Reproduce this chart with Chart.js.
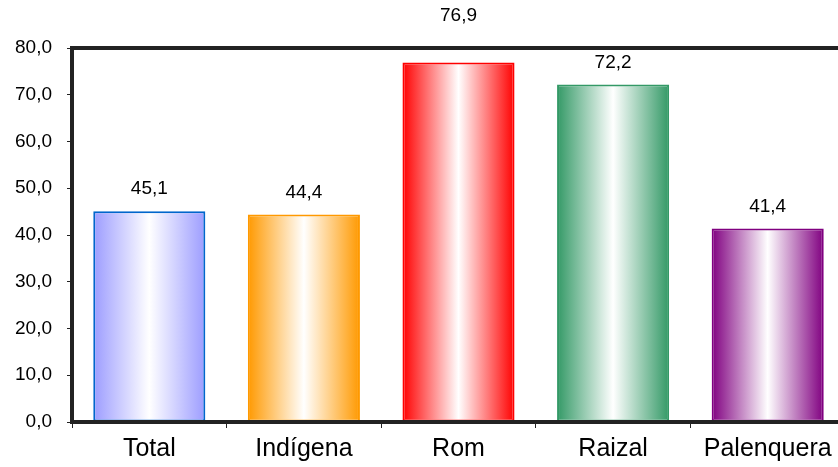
<!DOCTYPE html>
<html>
<head>
<meta charset="utf-8">
<script src="https://cdn.jsdelivr.net/npm/chart.js@4"></script>
<style>
  html, body { margin: 0; padding: 0; background: #fff; overflow: hidden; }
  #wrap { width: 852px; height: 467px; }
</style>
</head>
<body>
<div id="wrap"><canvas id="c" width="852" height="467"></canvas></div>
<script>
// datos del gráfico
const categorias = ['Total', 'Indígena', 'Rom', 'Raizal', 'Palenquera'];
const valores = [45.1, 44.4, 76.9, 72.2, 41.4];
const colores = ['#9c9cff', '#ff9900', '#ff0000', '#339966', '#800080'];
const bordes = ['#0066cc', '#ff9900', '#ff0000', '#339966', '#800080'];

const fuente = '"Liberation Sans", Arial, sans-serif';
const fmt = v => v.toFixed(1).replace('.', ',');

// degradado horizontal: color - blanco - color
function degradado(ctx) {
    const chart = ctx.chart;
    const x = chart.scales.x;
    if (!x || !chart.chartArea) return colores[ctx.dataIndex];
    const w = chart.chartArea.width / categorias.length * 0.725;
    const cx = x.getPixelForValue(ctx.dataIndex);
    const g = chart.ctx.createLinearGradient(cx - w / 2, 0, cx + w / 2, 0);
    const c = colores[ctx.dataIndex];
    g.addColorStop(0, c);
    g.addColorStop(0.5, '#ffffff');
    g.addColorStop(1, c);
    return g;
}

// marco del área de trazado
const marco = {
    id: 'marco',
    afterDatasetsDraw(chart) {
        const a = chart.chartArea, c = chart.ctx;
        c.save();
        c.strokeStyle = '#222';
        c.lineWidth = 4;
        c.strokeRect(a.left, a.top, a.right - a.left, a.bottom - a.top);
        c.restore();
    }
};

// etiquetas de valores sobre las barras
const etiquetas = {
    id: 'etiquetas',
    afterDraw(chart) {
        const c = chart.ctx, a = chart.chartArea;
        c.save();
        c.font = '19px ' + fuente;
        c.fillStyle = '#000';
        c.textAlign = 'center';
        c.textBaseline = 'middle';
        chart.getDatasetMeta(0).data.forEach((bar, i) => {
            let y = bar.y - 22;
            if (y - 10 < a.top + 4) y = a.top - 32;
            c.fillText(fmt(valores[i]), bar.x, y);
        });
        c.restore();
    }
};

new Chart(document.getElementById('c'), {
    type: 'bar',
    data: {
        labels: categorias,
        datasets: [{
            data: valores,
            backgroundColor: degradado,
            borderColor: bordes,
            borderWidth: 2,
            borderSkipped: false,
            barPercentage: 0.725,
            categoryPercentage: 1
        }]
    },
    options: {
        responsive: false,
        animation: false,
        layout: { padding: { top: 48, right: 7, left: 0, bottom: 0 } },
        plugins: { legend: { display: false }, tooltip: { enabled: false } },
        scales: {
            x: {
                offset: true,
                grid: { offset: true, drawOnChartArea: false, tickLength: 6, color: '#222', lineWidth: 1 },
                border: { display: false },
                ticks: { color: '#000', font: { size: 25, family: fuente }, padding: 6 },
                afterFit: s => { s.height = 45; }
            },
            y: {
                min: 0,
                max: 80,
                ticks: {
                    stepSize: 10,
                    color: '#000',
                    padding: 15,
                    font: { size: 19, family: fuente },
                    callback: v => fmt(v)
                },
                grid: { drawOnChartArea: false, tickLength: 5, color: '#222', lineWidth: 1 },
                border: { display: false },
                afterFit: s => { s.width = 72; }
            }
        }
    },
    plugins: [marco, etiquetas]
});
</script>
</body>
</html>
